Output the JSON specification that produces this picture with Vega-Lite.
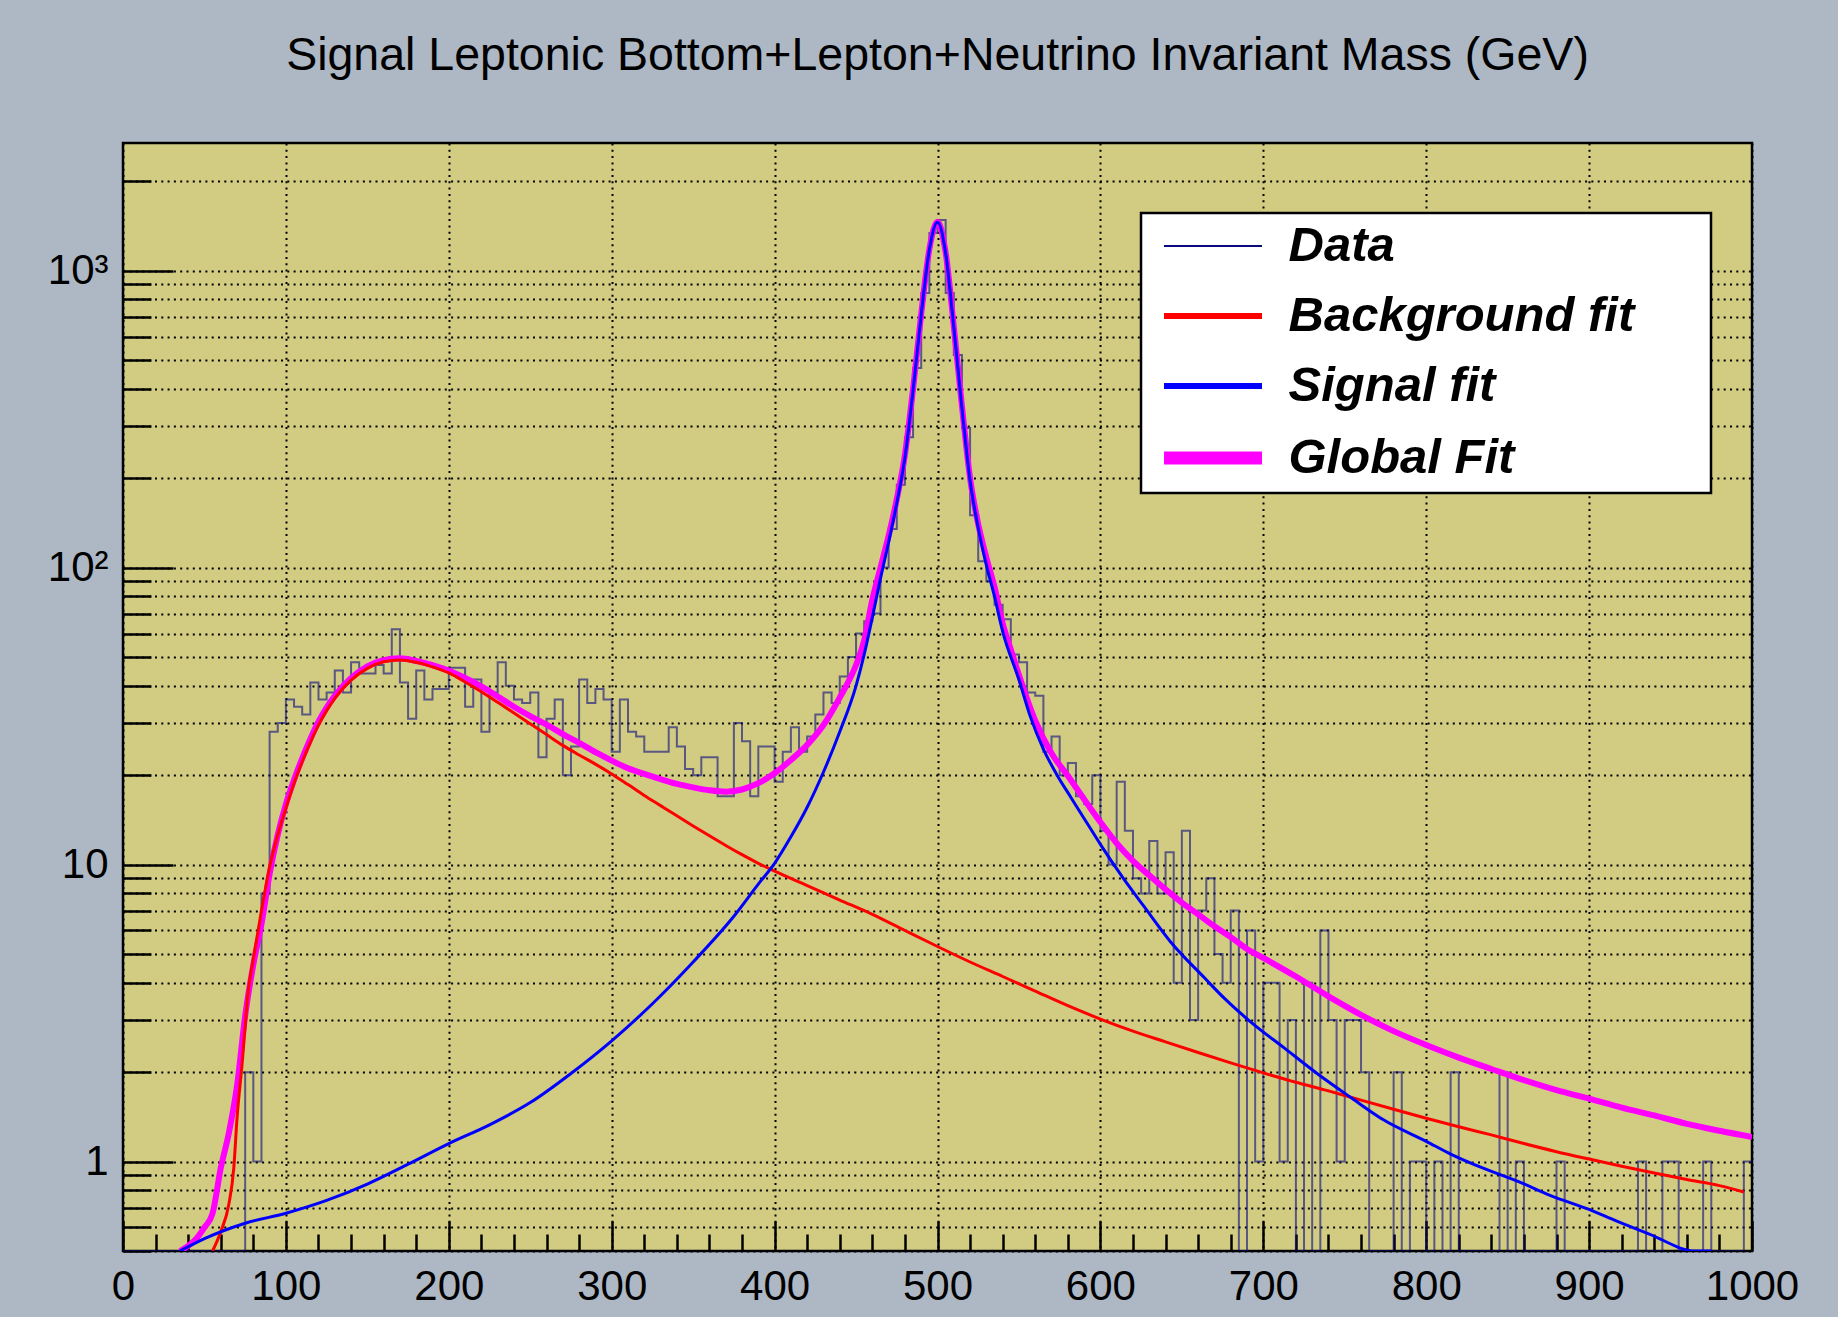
{
  "$schema": "https://vega.github.io/schema/vega-lite/v6.json",
  "width": 1629,
  "height": 1108,
  "autosize": {"type": "none"},
  "padding": {"left": 123, "top": 143, "right": 86, "bottom": 66},
  "background": "#adb8c4",
  "view": {"fill": "#d2cc83", "stroke": "black", "strokeWidth": 2.5},
  "config": {"font": "Liberation Sans", "legend": {"strokeWidth": 2.5}},
  "title": {"text": "Signal Leptonic Bottom+Lepton+Neutrino Invariant Mass (GeV)", "font": "Liberation Sans", "fontSize": 46.5, "fontWeight": "normal", "color": "black", "anchor": "middle", "frame": "group", "baseline": "alphabetic", "offset": 26.5},
  "datasets": {
    "hist": [
      {"s":"Data","m":0,"n":0},{"s":"Data","m":5,"n":0},{"s":"Data","m":10,"n":0},{"s":"Data","m":15,"n":0},{"s":"Data","m":20,"n":0},{"s":"Data","m":25,"n":0},{"s":"Data","m":30,"n":0},{"s":"Data","m":35,"n":0},{"s":"Data","m":40,"n":0},{"s":"Data","m":45,"n":0},
      {"s":"Data","m":50,"n":0},{"s":"Data","m":55,"n":0},{"s":"Data","m":60,"n":0},{"s":"Data","m":65,"n":0},{"s":"Data","m":70,"n":0},{"s":"Data","m":75,"n":2},{"s":"Data","m":80,"n":1},{"s":"Data","m":85,"n":8},{"s":"Data","m":90,"n":28},{"s":"Data","m":95,"n":30},
      {"s":"Data","m":100,"n":36},{"s":"Data","m":105,"n":34},{"s":"Data","m":110,"n":32},{"s":"Data","m":115,"n":41},{"s":"Data","m":120,"n":36},{"s":"Data","m":125,"n":38},{"s":"Data","m":130,"n":45},{"s":"Data","m":135,"n":38},{"s":"Data","m":140,"n":48},{"s":"Data","m":145,"n":44},
      {"s":"Data","m":150,"n":44},{"s":"Data","m":155,"n":47},{"s":"Data","m":160,"n":44},{"s":"Data","m":165,"n":62},{"s":"Data","m":170,"n":41},{"s":"Data","m":175,"n":31},{"s":"Data","m":180,"n":45},{"s":"Data","m":185,"n":36},{"s":"Data","m":190,"n":39},{"s":"Data","m":195,"n":39},
      {"s":"Data","m":200,"n":46},{"s":"Data","m":205,"n":46},{"s":"Data","m":210,"n":34},{"s":"Data","m":215,"n":42},{"s":"Data","m":220,"n":28},{"s":"Data","m":225,"n":38},{"s":"Data","m":230,"n":48},{"s":"Data","m":235,"n":40},{"s":"Data","m":240,"n":36},{"s":"Data","m":245,"n":35},
      {"s":"Data","m":250,"n":38},{"s":"Data","m":255,"n":23},{"s":"Data","m":260,"n":31},{"s":"Data","m":265,"n":36},{"s":"Data","m":270,"n":20},{"s":"Data","m":275,"n":25},{"s":"Data","m":280,"n":42},{"s":"Data","m":285,"n":35},{"s":"Data","m":290,"n":39},{"s":"Data","m":295,"n":36},
      {"s":"Data","m":300,"n":24},{"s":"Data","m":305,"n":36},{"s":"Data","m":310,"n":28},{"s":"Data","m":315,"n":27},{"s":"Data","m":320,"n":24},{"s":"Data","m":325,"n":24},{"s":"Data","m":330,"n":24},{"s":"Data","m":335,"n":29},{"s":"Data","m":340,"n":25},{"s":"Data","m":345,"n":21},
      {"s":"Data","m":350,"n":20},{"s":"Data","m":355,"n":23},{"s":"Data","m":360,"n":23},{"s":"Data","m":365,"n":17},{"s":"Data","m":370,"n":17},{"s":"Data","m":375,"n":30},{"s":"Data","m":380,"n":26},{"s":"Data","m":385,"n":17},{"s":"Data","m":390,"n":25},{"s":"Data","m":395,"n":25},
      {"s":"Data","m":400,"n":19},{"s":"Data","m":405,"n":24},{"s":"Data","m":410,"n":29},{"s":"Data","m":415,"n":24},{"s":"Data","m":420,"n":27},{"s":"Data","m":425,"n":32},{"s":"Data","m":430,"n":38},{"s":"Data","m":435,"n":35},{"s":"Data","m":440,"n":43},{"s":"Data","m":445,"n":50},
      {"s":"Data","m":450,"n":60},{"s":"Data","m":455,"n":66},{"s":"Data","m":460,"n":70},{"s":"Data","m":465,"n":100},{"s":"Data","m":470,"n":135},{"s":"Data","m":475,"n":190},{"s":"Data","m":480,"n":275},{"s":"Data","m":485,"n":470},{"s":"Data","m":490,"n":840},{"s":"Data","m":495,"n":1340},
      {"s":"Data","m":500,"n":1480},{"s":"Data","m":505,"n":840},{"s":"Data","m":510,"n":520},{"s":"Data","m":515,"n":295},{"s":"Data","m":520,"n":150},{"s":"Data","m":525,"n":105},{"s":"Data","m":530,"n":90},{"s":"Data","m":535,"n":75},{"s":"Data","m":540,"n":67},{"s":"Data","m":545,"n":51},
      {"s":"Data","m":550,"n":48},{"s":"Data","m":555,"n":38},{"s":"Data","m":560,"n":37},{"s":"Data","m":565,"n":24},{"s":"Data","m":570,"n":27},{"s":"Data","m":575,"n":20},{"s":"Data","m":580,"n":22},{"s":"Data","m":585,"n":17},{"s":"Data","m":590,"n":16},{"s":"Data","m":595,"n":20},
      {"s":"Data","m":600,"n":13},{"s":"Data","m":605,"n":10},{"s":"Data","m":610,"n":19},{"s":"Data","m":615,"n":13},{"s":"Data","m":620,"n":9},{"s":"Data","m":625,"n":8},{"s":"Data","m":630,"n":12},{"s":"Data","m":635,"n":8},{"s":"Data","m":640,"n":11},{"s":"Data","m":645,"n":4},
      {"s":"Data","m":650,"n":13},{"s":"Data","m":655,"n":3},{"s":"Data","m":660,"n":7},{"s":"Data","m":665,"n":9},{"s":"Data","m":670,"n":5},{"s":"Data","m":675,"n":4},{"s":"Data","m":680,"n":7},{"s":"Data","m":685,"n":0},{"s":"Data","m":690,"n":6},{"s":"Data","m":695,"n":1},
      {"s":"Data","m":700,"n":4},{"s":"Data","m":705,"n":4},{"s":"Data","m":710,"n":1},{"s":"Data","m":715,"n":3},{"s":"Data","m":720,"n":0},{"s":"Data","m":725,"n":4},{"s":"Data","m":730,"n":0},{"s":"Data","m":735,"n":6},{"s":"Data","m":740,"n":3},{"s":"Data","m":745,"n":1},
      {"s":"Data","m":750,"n":3},{"s":"Data","m":755,"n":3},{"s":"Data","m":760,"n":2},{"s":"Data","m":765,"n":0},{"s":"Data","m":770,"n":0},{"s":"Data","m":775,"n":0},{"s":"Data","m":780,"n":2},{"s":"Data","m":785,"n":0},{"s":"Data","m":790,"n":1},{"s":"Data","m":795,"n":1},
      {"s":"Data","m":800,"n":0},{"s":"Data","m":805,"n":1},{"s":"Data","m":810,"n":0},{"s":"Data","m":815,"n":2},{"s":"Data","m":820,"n":0},{"s":"Data","m":825,"n":0},{"s":"Data","m":830,"n":0},{"s":"Data","m":835,"n":0},{"s":"Data","m":840,"n":0},{"s":"Data","m":845,"n":2},
      {"s":"Data","m":850,"n":0},{"s":"Data","m":855,"n":1},{"s":"Data","m":860,"n":0},{"s":"Data","m":865,"n":0},{"s":"Data","m":870,"n":0},{"s":"Data","m":875,"n":0},{"s":"Data","m":880,"n":1},{"s":"Data","m":885,"n":0},{"s":"Data","m":890,"n":0},{"s":"Data","m":895,"n":0},
      {"s":"Data","m":900,"n":0},{"s":"Data","m":905,"n":0},{"s":"Data","m":910,"n":0},{"s":"Data","m":915,"n":0},{"s":"Data","m":920,"n":0},{"s":"Data","m":925,"n":0},{"s":"Data","m":930,"n":1},{"s":"Data","m":935,"n":0},{"s":"Data","m":940,"n":0},{"s":"Data","m":945,"n":1},
      {"s":"Data","m":950,"n":1},{"s":"Data","m":955,"n":0},{"s":"Data","m":960,"n":0},{"s":"Data","m":965,"n":0},{"s":"Data","m":970,"n":1},{"s":"Data","m":975,"n":0},{"s":"Data","m":980,"n":0},{"s":"Data","m":985,"n":0},{"s":"Data","m":990,"n":0},{"s":"Data","m":995,"n":1},
      {"s":"Data","m":1000,"n":1}
    ],
    "fits": [
      {"s":"Global Fit","m":35,"v":0.49},{"s":"Global Fit","m":40,"v":0.52},{"s":"Global Fit","m":45,"v":0.55},{"s":"Global Fit","m":50,"v":0.6},{"s":"Global Fit","m":55,"v":0.67},{"s":"Global Fit","m":60,"v":0.95},{"s":"Global Fit","m":65,"v":1.25},{"s":"Global Fit","m":70,"v":1.8},{"s":"Global Fit","m":75,"v":3.1},{"s":"Global Fit","m":80,"v":4.6},
      {"s":"Global Fit","m":85,"v":6.3},{"s":"Global Fit","m":90,"v":9.3},{"s":"Global Fit","m":95,"v":12.6},{"s":"Global Fit","m":100,"v":16},{"s":"Global Fit","m":105,"v":19.3},{"s":"Global Fit","m":110,"v":22.8},{"s":"Global Fit","m":115,"v":26.5},{"s":"Global Fit","m":120,"v":30.3},{"s":"Global Fit","m":125,"v":33.8},{"s":"Global Fit","m":130,"v":37},
      {"s":"Global Fit","m":140,"v":42.5},{"s":"Global Fit","m":150,"v":46.5},{"s":"Global Fit","m":160,"v":48.8},{"s":"Global Fit","m":170,"v":49.5},{"s":"Global Fit","m":180,"v":48.5},{"s":"Global Fit","m":190,"v":47},{"s":"Global Fit","m":200,"v":45},{"s":"Global Fit","m":210,"v":42.5},{"s":"Global Fit","m":220,"v":39.8},{"s":"Global Fit","m":230,"v":36.8},
      {"s":"Global Fit","m":240,"v":34},{"s":"Global Fit","m":250,"v":31.6},{"s":"Global Fit","m":260,"v":29.6},{"s":"Global Fit","m":270,"v":27.5},{"s":"Global Fit","m":280,"v":25.7},{"s":"Global Fit","m":290,"v":23.9},{"s":"Global Fit","m":300,"v":22.4},{"s":"Global Fit","m":310,"v":21.1},{"s":"Global Fit","m":320,"v":20.2},{"s":"Global Fit","m":330,"v":19.4},
      {"s":"Global Fit","m":340,"v":18.7},{"s":"Global Fit","m":350,"v":18.2},{"s":"Global Fit","m":360,"v":17.8},{"s":"Global Fit","m":370,"v":17.6},{"s":"Global Fit","m":380,"v":17.9},{"s":"Global Fit","m":390,"v":18.8},{"s":"Global Fit","m":400,"v":20.3},{"s":"Global Fit","m":410,"v":22.5},{"s":"Global Fit","m":420,"v":25.3},{"s":"Global Fit","m":430,"v":29.5},
      {"s":"Global Fit","m":440,"v":36.5},{"s":"Global Fit","m":445,"v":41},{"s":"Global Fit","m":450,"v":47},{"s":"Global Fit","m":455,"v":57},{"s":"Global Fit","m":460,"v":78},{"s":"Global Fit","m":465,"v":100},{"s":"Global Fit","m":470,"v":128},{"s":"Global Fit","m":475,"v":170},{"s":"Global Fit","m":480,"v":240},{"s":"Global Fit","m":485,"v":400},
      {"s":"Global Fit","m":490,"v":715},{"s":"Global Fit","m":495,"v":1180},{"s":"Global Fit","m":500,"v":1460},{"s":"Global Fit","m":505,"v":1150},{"s":"Global Fit","m":510,"v":650},{"s":"Global Fit","m":515,"v":350},{"s":"Global Fit","m":520,"v":200},{"s":"Global Fit","m":525,"v":140},{"s":"Global Fit","m":530,"v":108},{"s":"Global Fit","m":535,"v":86},
      {"s":"Global Fit","m":540,"v":65},{"s":"Global Fit","m":545,"v":53},{"s":"Global Fit","m":550,"v":43.5},{"s":"Global Fit","m":560,"v":30.5},{"s":"Global Fit","m":570,"v":23.7},{"s":"Global Fit","m":580,"v":19.9},{"s":"Global Fit","m":590,"v":16.6},{"s":"Global Fit","m":600,"v":13.9},{"s":"Global Fit","m":610,"v":11.8},{"s":"Global Fit","m":620,"v":10.3},
      {"s":"Global Fit","m":630,"v":9.2},{"s":"Global Fit","m":640,"v":8.25},{"s":"Global Fit","m":650,"v":7.45},{"s":"Global Fit","m":660,"v":6.8},{"s":"Global Fit","m":670,"v":6.2},{"s":"Global Fit","m":680,"v":5.7},{"s":"Global Fit","m":690,"v":5.2},{"s":"Global Fit","m":700,"v":4.85},{"s":"Global Fit","m":720,"v":4.2},{"s":"Global Fit","m":740,"v":3.6},
      {"s":"Global Fit","m":760,"v":3.12},{"s":"Global Fit","m":780,"v":2.75},{"s":"Global Fit","m":800,"v":2.47},{"s":"Global Fit","m":820,"v":2.24},{"s":"Global Fit","m":840,"v":2.05},{"s":"Global Fit","m":860,"v":1.88},{"s":"Global Fit","m":880,"v":1.74},{"s":"Global Fit","m":900,"v":1.63},{"s":"Global Fit","m":920,"v":1.52},{"s":"Global Fit","m":940,"v":1.43},
      {"s":"Global Fit","m":960,"v":1.34},{"s":"Global Fit","m":980,"v":1.27},{"s":"Global Fit","m":1000,"v":1.21},
      {"s":"Background fit","m":55,"v":0.48},{"s":"Background fit","m":60,"v":0.58},{"s":"Background fit","m":65,"v":0.72},{"s":"Background fit","m":68,"v":0.95},{"s":"Background fit","m":70,"v":1.4},{"s":"Background fit","m":73,"v":2.1},{"s":"Background fit","m":77,"v":3.8},{"s":"Background fit","m":80,"v":4.8},{"s":"Background fit","m":85,"v":7.0},{"s":"Background fit","m":90,"v":9.8},
      {"s":"Background fit","m":95,"v":12.6},{"s":"Background fit","m":100,"v":15.5},{"s":"Background fit","m":105,"v":18.8},{"s":"Background fit","m":110,"v":22.2},{"s":"Background fit","m":115,"v":25.8},{"s":"Background fit","m":120,"v":29.5},{"s":"Background fit","m":125,"v":33},{"s":"Background fit","m":130,"v":36.3},{"s":"Background fit","m":140,"v":41.8},{"s":"Background fit","m":150,"v":45.8},
      {"s":"Background fit","m":160,"v":48.2},{"s":"Background fit","m":170,"v":48.9},{"s":"Background fit","m":180,"v":48},{"s":"Background fit","m":190,"v":46.3},{"s":"Background fit","m":200,"v":44.2},{"s":"Background fit","m":210,"v":41.2},{"s":"Background fit","m":220,"v":38.2},{"s":"Background fit","m":230,"v":35.2},{"s":"Background fit","m":240,"v":32.4},{"s":"Background fit","m":250,"v":29.8},
      {"s":"Background fit","m":260,"v":27.4},{"s":"Background fit","m":270,"v":25.2},{"s":"Background fit","m":280,"v":23.4},{"s":"Background fit","m":290,"v":21.8},{"s":"Background fit","m":300,"v":20.2},{"s":"Background fit","m":310,"v":18.6},{"s":"Background fit","m":320,"v":17.1},{"s":"Background fit","m":330,"v":15.8},{"s":"Background fit","m":340,"v":14.6},{"s":"Background fit","m":350,"v":13.5},
      {"s":"Background fit","m":360,"v":12.5},{"s":"Background fit","m":370,"v":11.6},{"s":"Background fit","m":380,"v":10.8},{"s":"Background fit","m":390,"v":10.1},{"s":"Background fit","m":400,"v":9.5},{"s":"Background fit","m":420,"v":8.5},{"s":"Background fit","m":440,"v":7.6},{"s":"Background fit","m":460,"v":6.8},{"s":"Background fit","m":480,"v":6.0},{"s":"Background fit","m":500,"v":5.3},
      {"s":"Background fit","m":520,"v":4.7},{"s":"Background fit","m":540,"v":4.2},{"s":"Background fit","m":560,"v":3.75},{"s":"Background fit","m":580,"v":3.35},{"s":"Background fit","m":600,"v":3.02},{"s":"Background fit","m":620,"v":2.75},{"s":"Background fit","m":640,"v":2.53},{"s":"Background fit","m":660,"v":2.33},{"s":"Background fit","m":680,"v":2.15},{"s":"Background fit","m":700,"v":1.99},
      {"s":"Background fit","m":720,"v":1.85},{"s":"Background fit","m":740,"v":1.73},{"s":"Background fit","m":760,"v":1.61},{"s":"Background fit","m":780,"v":1.5},{"s":"Background fit","m":800,"v":1.4},{"s":"Background fit","m":820,"v":1.31},{"s":"Background fit","m":840,"v":1.23},{"s":"Background fit","m":860,"v":1.15},{"s":"Background fit","m":880,"v":1.08},{"s":"Background fit","m":900,"v":1.02},
      {"s":"Background fit","m":920,"v":0.965},{"s":"Background fit","m":940,"v":0.915},{"s":"Background fit","m":960,"v":0.87},{"s":"Background fit","m":980,"v":0.83},{"s":"Background fit","m":995,"v":0.79},
      {"s":"Signal fit","m":35,"v":0.49},{"s":"Signal fit","m":50,"v":0.55},{"s":"Signal fit","m":75,"v":0.62},{"s":"Signal fit","m":100,"v":0.67},{"s":"Signal fit","m":125,"v":0.74},{"s":"Signal fit","m":150,"v":0.84},{"s":"Signal fit","m":175,"v":0.98},{"s":"Signal fit","m":200,"v":1.15},{"s":"Signal fit","m":225,"v":1.33},{"s":"Signal fit","m":250,"v":1.58},
      {"s":"Signal fit","m":275,"v":1.98},{"s":"Signal fit","m":300,"v":2.55},{"s":"Signal fit","m":325,"v":3.4},{"s":"Signal fit","m":350,"v":4.7},{"s":"Signal fit","m":375,"v":6.7},{"s":"Signal fit","m":390,"v":8.6},{"s":"Signal fit","m":400,"v":10.1},{"s":"Signal fit","m":410,"v":12.4},{"s":"Signal fit","m":420,"v":15.6},{"s":"Signal fit","m":430,"v":20.5},
      {"s":"Signal fit","m":440,"v":28},{"s":"Signal fit","m":450,"v":40},{"s":"Signal fit","m":455,"v":51},{"s":"Signal fit","m":460,"v":68},{"s":"Signal fit","m":465,"v":92},{"s":"Signal fit","m":470,"v":122},{"s":"Signal fit","m":475,"v":165},{"s":"Signal fit","m":480,"v":235},{"s":"Signal fit","m":485,"v":395},{"s":"Signal fit","m":490,"v":710},
      {"s":"Signal fit","m":495,"v":1175},{"s":"Signal fit","m":500,"v":1455},{"s":"Signal fit","m":505,"v":1145},{"s":"Signal fit","m":510,"v":645},{"s":"Signal fit","m":515,"v":345},{"s":"Signal fit","m":520,"v":196},{"s":"Signal fit","m":525,"v":136},{"s":"Signal fit","m":530,"v":102},{"s":"Signal fit","m":535,"v":80},{"s":"Signal fit","m":540,"v":61},
      {"s":"Signal fit","m":550,"v":42},{"s":"Signal fit","m":557,"v":31.5},{"s":"Signal fit","m":565,"v":24.5},{"s":"Signal fit","m":573,"v":20.2},{"s":"Signal fit","m":582,"v":16.8},{"s":"Signal fit","m":594,"v":13.2},{"s":"Signal fit","m":600,"v":11.7},{"s":"Signal fit","m":614,"v":9.0},{"s":"Signal fit","m":627,"v":7.2},{"s":"Signal fit","m":643,"v":5.5},
      {"s":"Signal fit","m":664,"v":4.15},{"s":"Signal fit","m":676,"v":3.55},{"s":"Signal fit","m":692,"v":2.96},{"s":"Signal fit","m":713,"v":2.41},{"s":"Signal fit","m":733,"v":1.98},{"s":"Signal fit","m":754,"v":1.64},{"s":"Signal fit","m":774,"v":1.38},{"s":"Signal fit","m":800,"v":1.17},{"s":"Signal fit","m":815,"v":1.06},{"s":"Signal fit","m":835,"v":0.95},
      {"s":"Signal fit","m":856,"v":0.86},{"s":"Signal fit","m":876,"v":0.77},{"s":"Signal fit","m":900,"v":0.69},{"s":"Signal fit","m":917,"v":0.63},{"s":"Signal fit","m":937,"v":0.57},{"s":"Signal fit","m":965,"v":0.5},{"s":"Signal fit","m":975,"v":0.47}
    ]
  },
  "resolve": {"axis": {"x": "independent", "y": "independent"}},
  "layer": [
    {
      "data": {"name": "hist"},
      "mark": {"type": "line", "interpolate": "step-after", "opacity": 0.6, "clip": true},
      "encoding": {
        "x": {"field": "m", "type": "quantitative",
          "scale": {"domain": [0, 1000], "nice": false, "zero": false},
          "axis": {"orient": "bottom", "values": [0,100,200,300,400,500,600,700,800,900,1000], "title": null, "domain": false,
            "tickSize": -30, "tickWidth": 2.5, "tickColor": "black", "labelPadding": 45, "labelFontSize": 42, "labelFont": "Liberation Sans", "labelColor": "black",
            "labelFlush": false, "labelOverlap": false, "labelBound": false, "format": "d",
            "grid": true, "gridColor": "black", "gridDash": [2, 4.3], "gridWidth": 2, "gridOpacity": 1}},
        "y": {"field": "n", "type": "quantitative",
          "scale": {"type": "log", "domain": [0.5, 2690], "nice": false, "clamp": true},
          "axis": {"orient": "left", "values": [1, 10, 100, 1000], "title": null, "domain": false,
            "tickSize": -50, "tickWidth": 2.5, "tickColor": "black", "labelPadding": 65, "labelFontSize": 42, "labelFont": "Liberation Sans", "labelColor": "black",
            "labelOverlap": false, "labelBound": false, "labelFlush": false,
            "labelExpr": "datum.value == 1 ? '1' : datum.value == 10 ? '10' : datum.value == 100 ? '10²' : '10³'",
            "grid": true, "gridColor": "black", "gridDash": [2, 4.3], "gridWidth": 2, "gridOpacity": 1}},
        "color": {"field": "s", "type": "nominal",
          "scale": {"domain": ["Data", "Background fit", "Signal fit", "Global Fit"], "range": ["#0a0a80", "#ff0000", "#0000ff", "#ff00ff"]},
          "legend": {"orient": "none", "legendX": 1018, "legendY": 70, "title": "\u00a0", "titleOrient": "right", "titlePadding": 68, "titleFontSize": 1, "padding": 8.5,
            "fillColor": "white", "strokeColor": "black", "symbolOpacity": 1,
            "labelFont": "Liberation Sans", "labelFontSize": 49, "labelFontStyle": "italic", "labelFontWeight": "bold", "labelColor": "black",
            "labelLimit": 900, "labelOffset": 51, "symbolType": "M-4,0H4", "symbolSize": 600, "symbolOffset": 39, "rowPadding": 20}},
        "strokeWidth": {"field": "s", "type": "nominal",
          "scale": {"type": "ordinal", "domain": ["Data", "Background fit", "Signal fit", "Global Fit"], "range": [2, 6, 6, 13]},
          "legend": {"orient": "none", "legendX": 1018, "legendY": 70, "title": "\u00a0", "titleOrient": "right", "titlePadding": 68, "titleFontSize": 1, "padding": 8.5,
            "fillColor": "white", "strokeColor": "black", "symbolOpacity": 1,
            "labelFont": "Liberation Sans", "labelFontSize": 49, "labelFontStyle": "italic", "labelFontWeight": "bold", "labelColor": "black",
            "labelLimit": 900, "labelOffset": 51, "symbolType": "M-4,0H4", "symbolSize": 600, "symbolOffset": 39, "rowPadding": 20}}
      }
    },
    {
      "data": {"name": "fits"},
      "transform": [{"filter": "datum.s == 'Global Fit'"}],
      "mark": {"type": "line", "strokeWidth": 6, "clip": true, "interpolate": "monotone"},
      "encoding": {
        "x": {"field": "m", "type": "quantitative",
          "axis": {"orient": "bottom", "values": [20,40,60,80,120,140,160,180,220,240,260,280,320,340,360,380,420,440,460,480,520,540,560,580,620,640,660,680,720,740,760,780,820,840,860,880,920,940,960,980],
            "title": null, "domain": false, "labels": false, "grid": false, "tickSize": -17, "tickWidth": 2.5, "tickColor": "black"}},
        "y": {"field": "v", "type": "quantitative",
          "axis": {"orient": "left", "values": [0.5,0.6,0.7,0.8,0.9,2,3,4,5,6,7,8,9,20,30,40,50,60,70,80,90,200,300,400,500,600,700,800,900,2000],
            "title": null, "domain": false, "labels": false, "tickSize": -28, "tickWidth": 2.5, "tickColor": "black",
            "grid": true, "gridColor": "black", "gridDash": [2, 4.3], "gridWidth": 2, "gridOpacity": 1}},
        "color": {"field": "s", "type": "nominal", "legend": null}
      }
    },
    {
      "data": {"name": "fits"},
      "transform": [{"filter": "datum.s == 'Background fit'"}],
      "mark": {"type": "line", "strokeWidth": 3, "clip": true, "interpolate": "monotone"},
      "encoding": {
        "x": {"field": "m", "type": "quantitative", "axis": null},
        "y": {"field": "v", "type": "quantitative", "axis": null},
        "color": {"field": "s", "type": "nominal", "legend": null}
      }
    },
    {
      "data": {"name": "fits"},
      "transform": [{"filter": "datum.s == 'Signal fit'"}],
      "mark": {"type": "line", "strokeWidth": 3, "clip": true, "interpolate": "monotone"},
      "encoding": {
        "x": {"field": "m", "type": "quantitative", "axis": null},
        "y": {"field": "v", "type": "quantitative", "axis": null},
        "color": {"field": "s", "type": "nominal", "legend": null}
      }
    }
  ]
}
